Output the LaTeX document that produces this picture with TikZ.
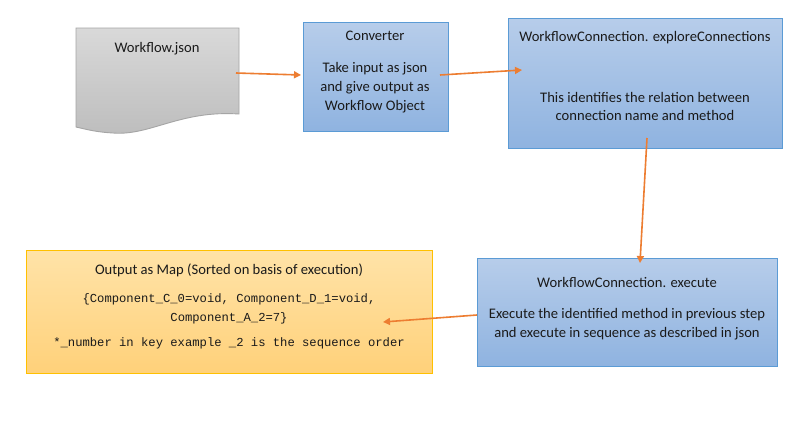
\documentclass[tikz,border=0pt]{standalone}
\usepackage{fontspec}
\setmainfont{Carlito}
\setmonofont{Liberation Mono}
\usetikzlibrary{arrows.meta}
\definecolor{arrowor}{HTML}{ED7D31}
\definecolor{bluetop}{HTML}{B7CDEA}
\definecolor{bluebot}{HTML}{8FB3E0}
\definecolor{blueline}{HTML}{5B9BD5}
\definecolor{yeltop}{HTML}{FFE3A8}
\definecolor{yelbot}{HTML}{FFD17A}
\definecolor{yelline}{HTML}{FFC000}
\definecolor{greytop}{HTML}{D9D9D9}
\definecolor{greybot}{HTML}{BDBDBD}
\definecolor{greyline}{HTML}{A5A5A5}
\definecolor{txt}{HTML}{1A1A1A}
\tikzset{
  bluebox/.style={draw=blueline, line width=0.9pt, top color=bluetop, bottom color=bluebot, anchor=north west, inner sep=0pt, outer sep=0pt},
  yelbox/.style={draw=yelline, line width=0.9pt, top color=yeltop, bottom color=yelbot, anchor=north west, inner sep=0pt, outer sep=0pt},
  lbl/.style={text=txt, font=\fontsize{14.6}{19}\selectfont, inner sep=0pt, anchor=base},
  monolbl/.style={text=txt, font=\ttfamily\fontsize{12.2}{19}\selectfont, inner sep=0pt, anchor=base},
  conn/.style={draw=arrowor, line width=1.6pt, -{Triangle[length=7pt,width=7pt]}}
}
\begin{document}
\begin{tikzpicture}[x=1pt,y=-1pt]
\useasboundingbox[fill=white] (0,0) rectangle (796,421);
% document shape
\path[draw=greyline, line width=0.9pt, top color=greytop, bottom color=greybot]
  (76,28) -- (239,28) -- (239,114) .. controls (180,110) and (150,136) .. (113,133)
  .. controls (95,132) and (85,129) .. (76,127) -- cycle;
\node[lbl] (doclbl) at (157,52) {Workflow.json};
\coordinate (docout) at (236,73);
% converter
\node[bluebox, minimum width=145pt, minimum height=109pt] (conv) at (303,22) {};
\node[lbl] (convtitle) at (375,40) {Converter};
\node[lbl] (convl1) at (375,72) {Take input as json};
\node[lbl] (convl2) at (375,91) {and give output as};
\node[lbl] (convl3) at (375,110) {Workflow Object};
% explore
\node[bluebox, minimum width=274pt, minimum height=130pt] (expl) at (508,18) {};
\node[lbl] (expltitle) at (645,41) {WorkflowConnection. exploreConnections};
\node[lbl] (expll1) at (645,102) {This identifies the relation between};
\node[lbl] (expll2) at (645,120) {connection name and method};
% execute
\node[bluebox, minimum width=300pt, minimum height=108pt] (exec) at (477,258) {};
\node[lbl] (exectitle) at (627,287) {WorkflowConnection. execute};
\node[lbl] (execl1) at (627,318) {Execute the identified method in previous step};
\node[lbl] (execl2) at (627,337) {and execute in sequence as described in json};
% output
\node[yelbox, minimum width=406pt, minimum height=123pt] (outb) at (26,250) {};
\node[lbl] (outtitle) at (229,274) {Output as Map (Sorted on basis of execution)};
\node[monolbl] (outmap1) at (229,302) {\{Component\_C\_0=void, Component\_D\_1=void,};
\node[monolbl] (outmap2) at (229,321) {Component\_A\_2=7\}};
\node[monolbl] (outnote) at (229,346) {*\_number in key example \_2 is the sequence order};
% connector endpoints
\coordinate (convin) at (301,75);
\coordinate (convout) at (440,75);
\coordinate (explin) at (522,70);
\coordinate (explout) at (647,138);
\coordinate (execin) at (640,263);
\coordinate (execout) at (477,315);
\coordinate (outin) at (383,322);
\draw[conn] (docout) -- (convin);
\draw[conn] (convout) -- (explin);
\draw[conn] (explout) -- (execin);
\draw[conn] (execout) -- (outin);
\end{tikzpicture}
\end{document}
